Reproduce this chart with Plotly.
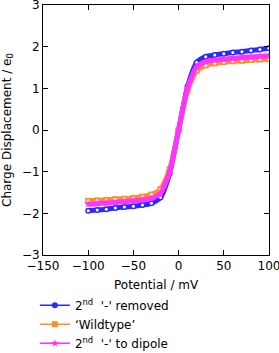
import plotly.graph_objects as go

potential = [-100, -90, -80, -70, -60, -50, -40, -30, -20, -10, 0,
             10, 20, 30, 40, 50, 60, 70, 80, 90, 100]

removed = [-1.94, -1.92, -1.90, -1.87, -1.85, -1.83, -1.80, -1.76, -1.62, -1.05, 0.0,
           1.05, 1.62, 1.76, 1.80, 1.83, 1.86, 1.88, 1.91, 1.93, 1.96]
wildtype = [-1.70, -1.69, -1.68, -1.66, -1.65, -1.63, -1.60, -1.55, -1.42, -0.95, 0.0,
            0.95, 1.42, 1.55, 1.60, 1.63, 1.65, 1.66, 1.68, 1.69, 1.70]
dipole = [-1.78, -1.77, -1.75, -1.74, -1.72, -1.70, -1.68, -1.64, -1.52, -1.02, 0.0,
          1.02, 1.52, 1.64, 1.68, 1.70, 1.72, 1.74, 1.75, 1.77, 1.78]

names = ["2<sup>nd</sup>  '-' removed", "\u2018Wildtype\u2019", "2<sup>nd</sup>  '-' to dipole"]
colors = ["#2a2aff", "#ff8c2a", "#ff33ff"]
symbols = ["circle", "square", "star"]
series = [removed, wildtype, dipole]

xticks = [-150, -100, -50, 0, 50, 100]
yticks = [-3, -2, -1, 0, 1, 2, 3]
x_title = "Potential / mV"
y_title = "Charge Displacement / e<sub>0</sub>"

fig = go.Figure()
for name, col, sym, ys in zip(names, colors, symbols, series):
    fig.add_trace(go.Scatter(
        x=potential, y=ys, name=name, mode="lines+markers", showlegend=False,
        line=dict(color=col, width=5, shape="spline", smoothing=0.6),
        marker=dict(symbol=sym, size=6, color=col),
    ))
    if sym != "star":
        fig.add_trace(go.Scatter(
            x=potential, y=ys, mode="markers", showlegend=False,
            marker=dict(symbol="circle", size=3, color="white"),
            hoverinfo="skip",
        ))
# legend entries (thin lines with small markers, as in the reference)
for name, col, sym in zip(names, colors, symbols):
    fig.add_trace(go.Scatter(
        x=[None], y=[None], name=name, mode="lines+markers",
        line=dict(color=col, width=1.5), marker=dict(symbol=sym, size=6, color=col),
    ))

font = dict(family="DejaVu Sans", size=12, color="black")
axis_common = dict(
    showgrid=False, zeroline=False, showline=True, linecolor="black", linewidth=1,
    mirror="ticks", ticks="inside", ticklen=5, tickcolor="black", tickwidth=1,
    tickfont=font, automargin=False, ticklabeloverflow="allow",
)
fig.update_xaxes(range=[-150.001, 100.001], tickvals=xticks, **axis_common)
fig.update_yaxes(range=[-3.0001, 3.0001], tickvals=yticks, **axis_common)

fig.add_annotation(text=x_title, xref="paper", yref="paper", x=0.5, y=-0.12,
                   xanchor="center", yanchor="middle", showarrow=False, font=font)
fig.add_annotation(text=y_title, xref="paper", yref="paper", x=-0.155, y=0.5,
                   xanchor="center", yanchor="middle", textangle=-90, showarrow=False, font=font)

fig.update_layout(
    width=279, height=353,
    margin=dict(l=43, r=10, t=5, b=98, autoexpand=False),
    paper_bgcolor="white", plot_bgcolor="white",
    font=font,
    showlegend=True,
    legend=dict(xref="container", yref="container", x=0.125, y=0.176,
                xanchor="left", yanchor="top", orientation="v",
                bgcolor="rgba(0,0,0,0)", font=font, tracegroupgap=0),
)

fig.write_html("out.html", config={"displayModeBar": False},
               post_script="document.body.style.margin='0';")
